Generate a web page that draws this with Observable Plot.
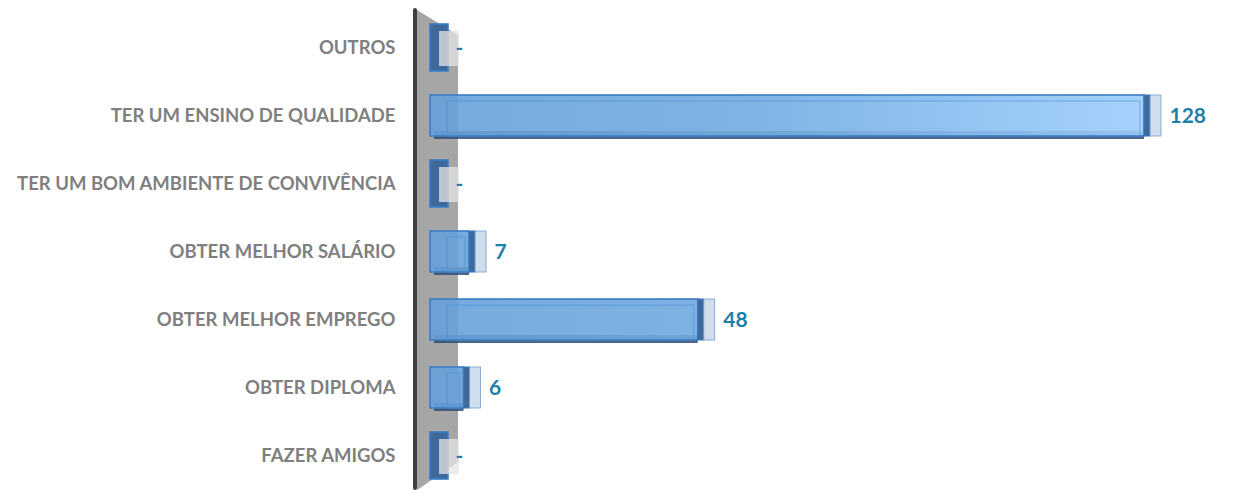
<!DOCTYPE html>
<html><head><meta charset="utf-8">
<script src="https://cdn.jsdelivr.net/npm/d3@7"></script>
<script src="https://cdn.jsdelivr.net/npm/@observablehq/plot@0.6"></script>
<style>body{margin:0;background:#fff;} #chart{width:1236px;height:490px;}</style>
</head><body><div id="chart"></div>
<script>
const categories = ["OUTROS","TER UM ENSINO DE QUALIDADE","TER UM BOM AMBIENTE DE CONVIVÊNCIA","OBTER MELHOR SALÁRIO","OBTER MELHOR EMPREGO","OBTER DIPLOMA","FAZER AMIGOS"];
const values = [0,128,0,7,48,6,0];
const valueLabels = ["-","128","-","7","48","6","-"];
const xMax = 128;

const data = categories.map((c,i)=>({category:c, value:values[i], label:valueLabels[i]}));
const nonzero = data.filter(d=>d.value>0);
const zero = data.filter(d=>d.value===0);

function wall(index, scales, vals, dim) {
  const x0 = scales.x(0);
  const top = 8, bottom = dim.height;
  const g = d3.create("svg:g");
  g.append("polygon")
    .attr("points", `${x0-13},${top+2} ${x0+28},${top+27} ${x0+28},${bottom-28} ${x0-13},${bottom}`)
    .attr("fill","#a6a6a6");
  g.append("rect").attr("x",x0-17).attr("y",top).attr("width",4).attr("height",bottom-top)
    .attr("rx",2).attr("fill","#3f3f3f");
  return g.node();
}
function defs(index, scales) {
  const g = d3.create("svg:g");
  const lg = g.append("defs").append("linearGradient").attr("id","barGrad")
    .attr("gradientUnits","userSpaceOnUse")
    .attr("x1",scales.x(0)).attr("x2",scales.x(xMax)).attr("y1",0).attr("y2",0);
  lg.append("stop").attr("offset","0").attr("stop-color","#67a0da");
  lg.append("stop").attr("offset","0.45").attr("stop-color","#72abe1");
  lg.append("stop").attr("offset","1").attr("stop-color","#9bcdfb");
  return g.node();
}

const chart = Plot.plot({
  width: 1236,
  height: 490,
  marginLeft: 430,
  marginRight: 92,
  marginTop: 12,
  marginBottom: 0,
  x: {domain:[0,xMax], axis:null},
  y: {domain: categories, paddingInner:0.4, paddingOuter:0.2, tickSize:0, tickPadding:35, label:null},
  style: {fontFamily:"Lato, 'Open Sans', sans-serif", fontSize:"18.5px", fontWeight:"bold", color:"#7f7f7f", background:"#fff"},
  marks: [
    defs,
    wall,
    // bottom shadow
    Plot.barX(nonzero, {x1:0, x2:"value", y:"category", insetTop:36, insetBottom:-3, insetLeft:4, fill:"#2e4d70", fillOpacity:0.85}),
    // front face
    Plot.barX(nonzero, {x1:0, x2:"value", y:"category", fill:"url(#barGrad)", fillOpacity:0.9, stroke:"#3a7cc2", strokeWidth:1.6}),
    // inner back edges
    Plot.barX(nonzero, {x1:0, x2:"value", y:"category", insetLeft:17, insetTop:6, insetRight:4, fill:"none", stroke:"#4e8ed0", strokeOpacity:0.5, strokeWidth:1.2}),
    // end caps (dark side + light face)
    Plot.barX(nonzero, {x1:"value", x2:"value", y:"category", insetRight:-6, fill:"#40699b", stroke:"#3a7cc2", strokeWidth:1}),
    Plot.barX(nonzero, {x1:"value", x2:"value", y:"category", insetLeft:6, insetRight:-17, fill:"#c4d5e6", fillOpacity:0.8, stroke:"#6f9fd0", strokeWidth:0.8}),
    // zero bars
    Plot.barX(zero, {x1:"value", x2:"value", y:"category", insetRight:-18, insetTop:-3, insetBottom:-3, fill:"#40699b", stroke:"#3a7cc2", strokeWidth:1.6}),
    Plot.barX(zero, {x1:"value", x2:"value", y:"category", insetLeft:9, insetRight:-29, insetTop:4, insetBottom:2, fill:"#e4e4e4", fillOpacity:0.75}),
    // value labels
    Plot.text(data, {x:"value", y:"category", text:"label", dx:25, textAnchor:"start", fill:"#1f7fa8", fontSize:21, fontWeight:"bold"})
  ]
});
document.getElementById("chart").appendChild(chart);
</script>
</body></html>
